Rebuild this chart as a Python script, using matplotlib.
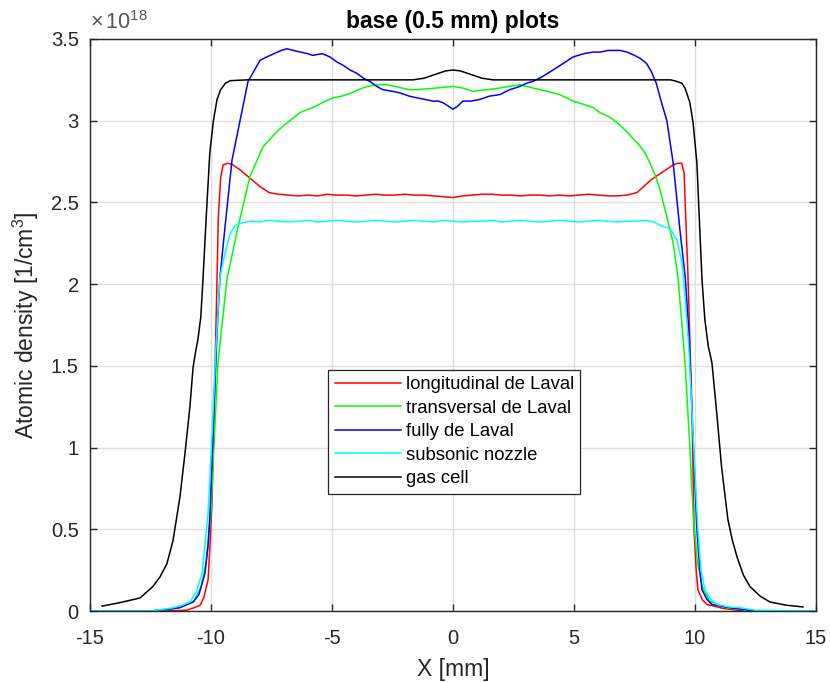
import matplotlib
matplotlib.use("Agg")
import matplotlib.pyplot as plt
from matplotlib.ticker import FuncFormatter
import numpy as np

plt.rcParams['font.family'] = ['Liberation Sans', 'DejaVu Sans']
plt.rcParams['mathtext.fontset'] = 'custom'
plt.rcParams['mathtext.rm'] = 'Liberation Sans'
plt.rcParams['mathtext.it'] = 'Liberation Sans'
plt.rcParams['axes.unicode_minus'] = False

# === Datos (densidad en unidades de 1e18 1/cm^3) ===
SCALE = 1e18

red_pts = [(-12.0, 0.0), (-11.0, 0.005), (-10.7, 0.02), (-10.45, 0.035), (-10.3, 0.08),
           (-10.12, 0.19), (-10.04, 0.4), (-9.96, 0.65), (-9.88, 1.21), (-9.8, 1.7),
           (-9.75, 2.03), (-9.7, 2.4), (-9.6, 2.65), (-9.5, 2.73), (-9.3, 2.74), (-9.1, 2.73),
           (-8.8, 2.70), (-8.4, 2.65), (-8.0, 2.60), (-7.6, 2.56), (-7.2, 2.550), (-6.8, 2.545),
           (-6.4, 2.540), (-6.0, 2.545), (-5.6, 2.540), (-5.2, 2.550), (-4.8, 2.545), (-4.4, 2.545),
           (-4.0, 2.540), (-3.6, 2.545), (-3.2, 2.550), (-2.8, 2.545), (-2.4, 2.545), (-2.0, 2.550),
           (-1.6, 2.545), (-1.2, 2.545), (-0.8, 2.540), (-0.4, 2.535), (0.0, 2.530), (0.4, 2.540),
           (0.8, 2.545), (1.2, 2.550), (1.6, 2.550), (2.0, 2.545), (2.4, 2.545), (2.8, 2.540),
           (3.2, 2.545), (3.6, 2.545), (4.0, 2.540), (4.4, 2.545), (4.8, 2.540), (5.2, 2.545),
           (5.6, 2.550), (6.0, 2.545), (6.4, 2.540), (6.8, 2.540), (7.2, 2.545), (7.6, 2.56),
           (7.9, 2.60), (8.2, 2.64), (8.5, 2.67), (8.8, 2.70), (9.1, 2.73), (9.3, 2.74),
           (9.45, 2.74), (9.55, 2.68), (9.62, 2.4), (9.7, 2.1), (9.78, 1.7), (9.88, 1.21),
           (9.96, 0.5), (10.05, 0.25), (10.12, 0.13), (10.3, 0.07), (10.5, 0.04), (11.2, 0.015),
           (12.0, 0.0)]

green_pts = [(-12.5, 0.0), (-11.8, 0.01), (-11.3, 0.02), (-10.7, 0.06), (-10.4, 0.15), (-10.2, 0.3),
             (-10.0, 0.6), (-9.88, 1.0), (-9.71, 1.52), (-9.34, 2.03), (-8.88, 2.35), (-8.39, 2.66),
             (-7.85, 2.84), (-7.3, 2.93), (-7.0, 2.97), (-6.74, 3.0), (-6.32, 3.05), (-5.8, 3.08),
             (-5.4, 3.11), (-4.96, 3.14), (-4.6, 3.15), (-4.2, 3.17), (-3.9, 3.19), (-3.55, 3.21),
             (-3.1, 3.22), (-2.73, 3.22), (-2.4, 3.21), (-2.1, 3.20), (-1.8, 3.19), (-1.49, 3.19),
             (-1.1, 3.195), (-0.7, 3.2), (-0.35, 3.205), (0.0, 3.21), (0.4, 3.2), (0.83, 3.18),
             (1.1, 3.185), (1.4, 3.19), (1.7, 3.195), (1.94, 3.2), (2.3, 3.21), (2.77, 3.22),
             (3.05, 3.21), (3.3, 3.2), (3.6, 3.19), (3.88, 3.18), (4.15, 3.17), (4.4, 3.16),
             (4.7, 3.14), (4.96, 3.12), (5.4, 3.10), (5.8, 3.08), (6.07, 3.05), (6.5, 3.02),
             (6.85, 2.98), (7.2, 2.93), (7.7, 2.85), (7.95, 2.80), (8.14, 2.74), (8.35, 2.67),
             (8.55, 2.58), (8.84, 2.41), (9.1, 2.25), (9.3, 2.04), (9.59, 1.52), (9.79, 1.0),
             (9.92, 0.6), (10.1, 0.3), (10.3, 0.15), (10.6, 0.06), (11.3, 0.02), (12.0, 0.01),
             (12.5, 0.0)]

blue_pts = [(-15.0, 0.0), (-12.5, 0.0), (-11.8, 0.01), (-11.3, 0.02), (-10.74, 0.055), (-10.5, 0.1),
            (-10.25, 0.23), (-10.12, 0.4), (-10.04, 0.6), (-9.88, 1.21), (-9.75, 1.7), (-9.63, 2.04),
            (-9.42, 2.35), (-9.13, 2.76), (-8.8, 3.0), (-8.47, 3.24), (-8.2, 3.31), (-7.97, 3.37),
            (-7.7, 3.39), (-7.4, 3.41), (-7.1, 3.43), (-6.86, 3.44), (-6.6, 3.43), (-6.3, 3.42),
            (-6.0, 3.41), (-5.8, 3.40), (-5.4, 3.41), (-5.08, 3.39), (-4.8, 3.36), (-4.55, 3.34),
            (-4.25, 3.31), (-3.97, 3.29), (-3.7, 3.26), (-3.43, 3.24), (-3.15, 3.21), (-2.9, 3.19),
            (-2.5, 3.18), (-2.19, 3.17), (-1.8, 3.15), (-1.49, 3.14), (-1.15, 3.13), (-0.83, 3.12),
            (-0.6, 3.12), (-0.41, 3.11), (-0.2, 3.09), (0.0, 3.07), (0.2, 3.09), (0.41, 3.12),
            (0.75, 3.12), (1.1, 3.13), (1.5, 3.15), (1.94, 3.16), (2.35, 3.19), (2.77, 3.21),
            (3.05, 3.23), (3.3, 3.24), (3.7, 3.27), (4.13, 3.31), (4.55, 3.35), (4.96, 3.39),
            (5.4, 3.41), (5.79, 3.42), (6.1, 3.42), (6.4, 3.43), (6.9, 3.43), (7.2, 3.42),
            (7.5, 3.40), (7.75, 3.38), (8.0, 3.35), (8.2, 3.30), (8.4, 3.23), (8.6, 3.12),
            (8.84, 3.0), (9.1, 2.74), (9.38, 2.33), (9.6, 2.04), (9.75, 1.7), (9.88, 1.21),
            (10.08, 0.5), (10.2, 0.25), (10.29, 0.13), (10.5, 0.07), (10.7, 0.04), (11.45, 0.02),
            (12.0, 0.01), (12.5, 0.0), (15.0, 0.0)]

cyan_pts = [(-15.0, 0.0), (-12.5, 0.0), (-12.0, 0.01), (-11.57, 0.02), (-11.2, 0.035), (-10.87, 0.055),
            (-10.6, 0.12), (-10.37, 0.23), (-10.25, 0.4), (-10.12, 0.6), (-9.95, 1.1), (-9.8, 1.6),
            (-9.63, 2.04), (-9.42, 2.19), (-9.2, 2.31), (-9.0, 2.36), (-8.7, 2.375), (-8.4, 2.385),
            (-8.0, 2.38), (-7.6, 2.39), (-7.2, 2.385), (-6.8, 2.38), (-6.4, 2.385), (-6.0, 2.39),
            (-5.6, 2.38), (-5.2, 2.385), (-4.8, 2.39), (-4.4, 2.385), (-4.0, 2.38), (-3.6, 2.385),
            (-3.2, 2.39), (-2.8, 2.385), (-2.4, 2.38), (-2.0, 2.385), (-1.6, 2.39), (-1.2, 2.385),
            (-0.8, 2.38), (-0.4, 2.39), (0.0, 2.385), (0.4, 2.38), (0.8, 2.385), (1.2, 2.385),
            (1.6, 2.39), (2.0, 2.38), (2.4, 2.385), (2.8, 2.39), (3.2, 2.385), (3.6, 2.38),
            (4.0, 2.385), (4.4, 2.39), (4.8, 2.385), (5.2, 2.38), (5.6, 2.385), (6.0, 2.39),
            (6.4, 2.385), (6.8, 2.38), (7.2, 2.385), (7.6, 2.385), (8.0, 2.39), (8.3, 2.38),
            (8.55, 2.36), (8.97, 2.34), (9.26, 2.27), (9.46, 2.13), (9.6, 1.9), (9.75, 1.6),
            (9.88, 1.21), (10.12, 0.5), (10.25, 0.25), (10.41, 0.13), (10.6, 0.08), (10.9, 0.04),
            (11.4, 0.025), (11.86, 0.02), (12.5, 0.005), (15.0, 0.0)]

black_pts = [(-14.5, 0.03), (-13.8, 0.05), (-12.93, 0.08), (-12.4, 0.15), (-12.1, 0.21), (-11.82, 0.29),
             (-11.57, 0.43), (-11.28, 0.70), (-11.07, 0.97), (-10.87, 1.25), (-10.74, 1.49),
             (-10.62, 1.6), (-10.54, 1.66), (-10.42, 1.8), (-10.33, 2.03), (-10.2, 2.4), (-10.05, 2.8),
             (-9.9, 3.0), (-9.75, 3.13), (-9.6, 3.19), (-9.4, 3.23), (-9.2, 3.245), (-8.5, 3.25),
             (-1.65, 3.25), (-1.2, 3.26), (-0.7, 3.285), (-0.3, 3.305), (0.0, 3.31), (0.3, 3.305),
             (0.7, 3.285), (1.2, 3.26), (1.65, 3.25), (9.0, 3.25), (9.26, 3.24), (9.45, 3.23),
             (9.59, 3.2), (9.79, 3.11), (9.92, 2.99), (10.08, 2.74), (10.2, 2.33), (10.29, 2.03),
             (10.41, 1.78), (10.55, 1.62), (10.7, 1.52), (10.9, 1.21), (11.1, 0.88), (11.36, 0.56),
             (11.55, 0.43), (11.74, 0.33), (12.0, 0.22), (12.27, 0.15), (12.7, 0.09), (13.1, 0.055),
             (13.8, 0.035), (14.46, 0.025)]

series = [
    (red_pts, (1, 0, 0), 'longitudinal de Laval'),
    (green_pts, (0, 1, 0), 'transversal de Laval'),
    (blue_pts, (0, 0, 1), 'fully de Laval'),
    (cyan_pts, (0, 1, 1), 'subsonic nozzle'),
    (black_pts, (0, 0, 0), 'gas cell'),
]

x_ticks = [-15, -10, -5, 0, 5, 10, 15]
y_ticks = [0, 0.5, 1, 1.5, 2, 2.5, 3, 3.5]

# === Figura ===
fig = plt.figure(figsize=(8.3, 6.83), dpi=100)
ax = fig.add_axes([0.1084, 0.1054, 0.8747, 0.8375])

for pts, color, label in series:
    arr = np.array(pts)
    ax.plot(arr[:, 0], arr[:, 1] * SCALE, color=color, linewidth=1.1, label=label)

ax.set_xlim(-15, 15)
ax.set_ylim(0, 3.5 * SCALE)
ax.set_xticks(x_ticks)
ax.set_yticks([v * SCALE for v in y_ticks])
ax.yaxis.set_major_formatter(FuncFormatter(lambda v, p: '%g' % round(v / SCALE, 3)))
ax.text(0.0, 1.008, r'$\times\,10^{18}$', transform=ax.transAxes, fontsize=15.5,
        color='#555555', ha='left', va='bottom')

ax.grid(True, color='#dedede', linewidth=1.0)
ax.set_axisbelow(True)
for sp in ax.spines.values():
    sp.set_color('#262626')
    sp.set_linewidth(1.0)
ax.tick_params(direction='in', length=5, width=1.0, top=True, right=True,
               labelsize=14.5, colors='#262626')
ax.tick_params(axis='x', pad=13)
ax.tick_params(axis='y', pad=8)

ax.set_title('base (0.5 mm) plots', fontsize=16.5, fontweight='bold', pad=8)
ax.set_xlabel('X [mm]', fontsize=16.5, color='#262626', labelpad=7)
ax.set_ylabel('Atomic density [1/cm$^3$]', fontsize=16.5, color='#262626', labelpad=7)

leg = ax.legend(loc='upper left', bbox_to_anchor=(0.328, 0.4213), borderaxespad=0,
                fontsize=13.3, fancybox=False, framealpha=1, edgecolor='#262626',
                handlelength=3.6, handletextpad=0.25, labelspacing=0.35, borderpad=0.35)
leg.get_frame().set_linewidth(0.9)

fig.savefig('out.png', dpi=100)
